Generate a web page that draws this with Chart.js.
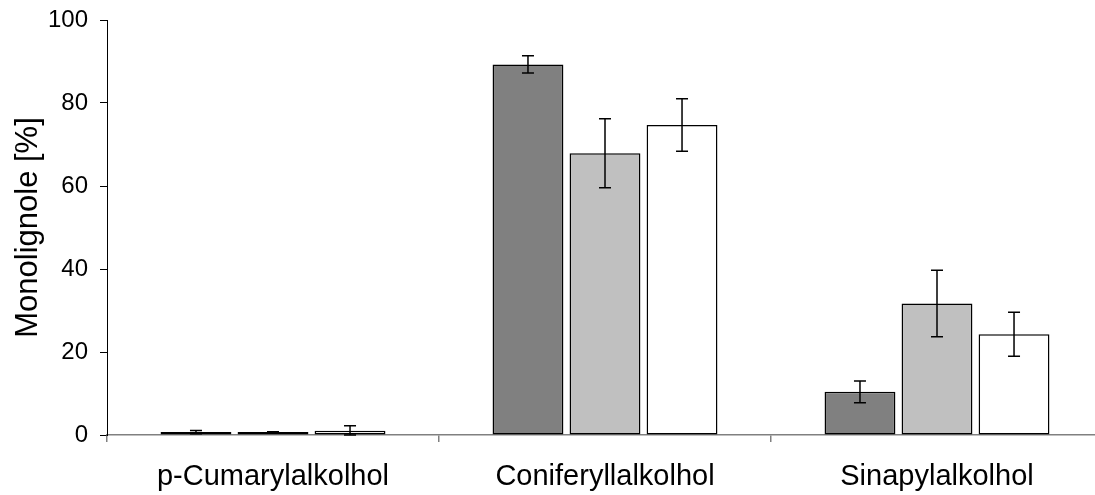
<!DOCTYPE html>
<html>
<head>
<meta charset="utf-8">
<script src="https://cdn.jsdelivr.net/npm/chart.js@4.4.1/dist/chart.umd.min.js"></script>
<style>
html,body{margin:0;padding:0;background:#fff;overflow:hidden;}
#wrap{position:relative;width:1111px;height:495px;}
</style>
</head>
<body>
<div id="wrap"><canvas id="c"></canvas></div>
<script>
const categories = ['p-Cumarylalkolhol', 'Coniferyllalkolhol', 'Sinapylalkolhol'];
const series1 = [0.7, 89.3, 10.4];
const series2 = [0.7, 67.9, 31.7];
const series3 = [1.0, 74.7, 24.3];
const err1 = [0.4, 2.1, 2.6];
const err2 = [0.1, 8.3, 8.0];
const err3 = [1.2, 6.3, 5.3];
const yTicks = [0, 20, 40, 60, 80, 100];

const FONT = "'Liberation Sans', Arial, sans-serif";

const errorBars = {
  id: 'errorBars',
  afterDatasetsDraw(chart) {
    const ctx = chart.ctx;
    const y = chart.scales.y;
    ctx.save();
    ctx.strokeStyle = '#000';
    ctx.lineWidth = 1.5;
    chart.data.datasets.forEach((ds, i) => {
      const meta = chart.getDatasetMeta(i);
      meta.data.forEach((bar, j) => {
        const v = ds.data[j], e = ds.errors[j];
        const x = bar.x;
        const yt = y.getPixelForValue(v + e);
        const yb = y.getPixelForValue(Math.max(0, v - e));
        const cap = 6;
        ctx.beginPath();
        ctx.moveTo(x, yt); ctx.lineTo(x, yb);
        ctx.moveTo(x - cap, yt); ctx.lineTo(x + cap, yt);
        ctx.moveTo(x - cap, yb); ctx.lineTo(x + cap, yb);
        ctx.stroke();
      });
    });
    ctx.restore();
  }
};

new Chart(document.getElementById('c'), {
  type: 'bar',
  data: {
    labels: categories,
    datasets: [
      {data: series1, errors: err1, backgroundColor: '#808080'},
      {data: series2, errors: err2, backgroundColor: '#C0C0C0'},
      {data: series3, errors: err3, backgroundColor: '#FFFFFF'}
    ].map(d => Object.assign(d, {
      borderColor: '#000', borderWidth: 1.5, borderSkipped: false,
      categoryPercentage: 0.696, barPercentage: 0.92
    }))
  },
  options: {
    responsive: true,
    maintainAspectRatio: false,
    animation: false,
    devicePixelRatio: 1,
    layout: {padding: {left: 10, right: 8, top: 20, bottom: 0}},
    plugins: {legend: {display: false}, tooltip: {enabled: false}},
    scales: {
      x: {
        offset: true,
        border: {color: '#808080', width: 1.5},
        grid: {offset: true, drawOnChartArea: false, drawTicks: true, tickLength: 7, color: '#808080', lineWidth: 1.5},
        ticks: {color: '#000', font: {family: FONT, size: 29}, padding: 18, maxRotation: 0},
        afterFit(s) { s.height = 60; s.paddingLeft = 0; s.paddingRight = 0; }
      },
      y: {
        min: 0, max: 100,
        afterBuildTicks(s) { s.ticks = yTicks.map(v => ({value: v})); },
        border: {color: '#000', width: 1},
        grid: {drawOnChartArea: false, drawTicks: true, tickLength: 7, color: '#000'},
        ticks: {color: '#000', font: {family: FONT, size: 24}, padding: 12},
        title: {display: true, text: 'Monolignole [%]', color: '#000', font: {family: FONT, size: 31}, padding: {top: 0, bottom: 0}},
        afterFit(s) { s.width = 97; s.paddingTop = 0; s.paddingBottom = 0; }
      }
    }
  },
  plugins: [errorBars]
});
</script>
</body>
</html>
